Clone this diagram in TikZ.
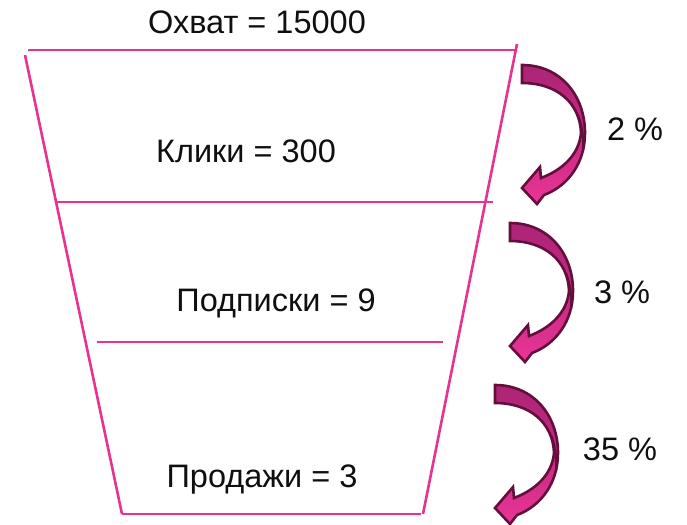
\documentclass[tikz,border=0pt]{standalone}
\usepackage{fontspec}
\setmainfont{Liberation Sans}
\definecolor{funnel}{RGB}{232,50,145}
\definecolor{arrdark}{RGB}{100,14,60}
\definecolor{arrtop}{RGB}{172,36,118}
\definecolor{arrbot}{RGB}{234,52,150}
\definecolor{txt}{RGB}{15,15,15}
\tikzset{
  fline/.style={draw=funnel, line width=2.6pt},
  lbl/.style={anchor=base, inner sep=0pt, text=txt, font=\fontsize{32.5}{36}\selectfont},
  arrowbody/.style={draw=arrdark, line width=2.6pt, line join=miter, top color=arrtop, bottom color=arrbot, middle color=arrtop!60!arrbot},
  seam/.style={draw=arrdark, line width=2pt},
  curvedarrow/.pic={
    \path[arrowbody] (0,0) .. controls (38,0) and (63,30) .. (63,68)
      .. controls (63,98) and (46,121) .. (22,130)
      -- (15,139) -- (0,123) -- (18,102) -- (19,113)
      .. controls (40,105) and (57,90) .. (59,68)
      .. controls (58,38) and (35,18) .. (0,18) -- cycle;
    \path[seam] (56,50) .. controls (60,60) and (62,72) .. (61,86);
  }
}
\begin{document}
\begin{tikzpicture}[x=1pt,y=-1pt]
\useasboundingbox (0,0) rectangle (687,524);
% funnel
\coordinate (tl) at (25,55);
\coordinate (bl) at (122,514);
\coordinate (tr) at (517,44);
\coordinate (br) at (423,514);
\coordinate (l1a) at (28,50);
\coordinate (l1b) at (515,50);
\coordinate (l2a) at (57,202);
\coordinate (l2b) at (493,202);
\coordinate (l3a) at (97,342);
\coordinate (l3b) at (443,342);
\coordinate (l4a) at (122,514);
\coordinate (l4b) at (421,514);
\draw[fline] (tl) -- (bl);
\draw[fline] (tr) -- (br);
\draw[fline] (l1a) -- (l1b);
\draw[fline] (l2a) -- (l2b);
\draw[fline] (l3a) -- (l3b);
\draw[fline] (l4a) -- (l4b);
% labels
\node[lbl] (reach) at (257,34) {Охват = 15000};
\node[lbl] (clicks) at (246,162) {Клики = 300};
\node[lbl] (subs) at (276,311) {Подписки = 9};
\node[lbl] (sales) at (262,487) {Продажи = 3};
\node[lbl] (p1) at (635,140) {2 \%};
\node[lbl] (p2) at (622,303) {3 \%};
\node[lbl] (p3) at (620,460) {35 \%};
% arrows
\pic at (522,65) {curvedarrow};
\pic at (510,223) {curvedarrow};
\pic at (495,385) {curvedarrow};
\end{tikzpicture}
\end{document}
